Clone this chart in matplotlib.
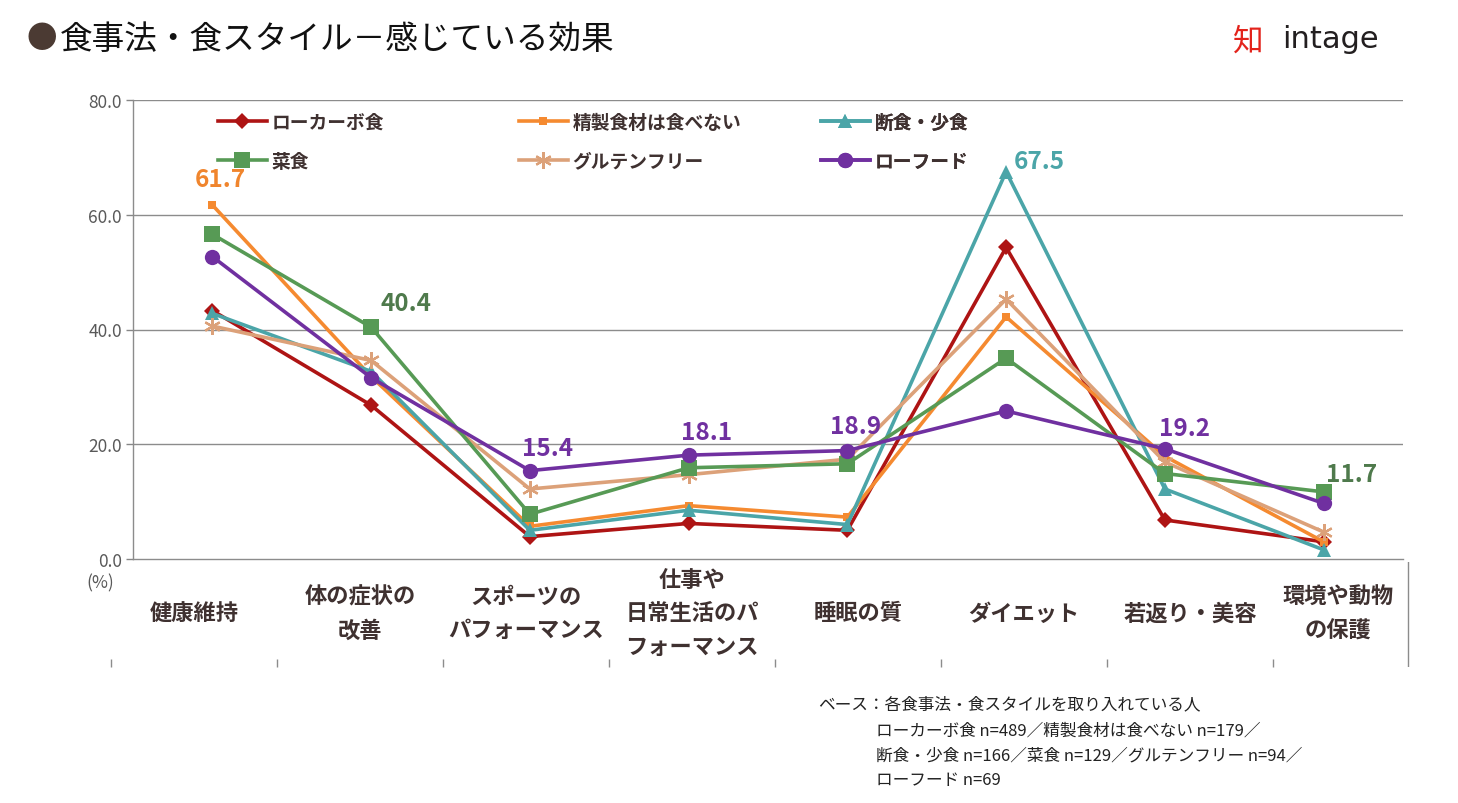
import matplotlib
matplotlib.use("Agg")
import matplotlib.pyplot as plt

plt.rcParams['font.family'] = ['Noto Sans CJK JP', 'DejaVu Sans']

W, H = 1458, 804

categories = ["健康維持", "体の症状の\n改善", "スポーツの\nパフォーマンス", "仕事や\n日常生活のパ\nフォーマンス",
              "睡眠の質", "ダイエット", "若返り・美容", "環境や動物\nの保護"]
series_names = ["ローカーボ食", "精製食材は食べない", "断食・少食", "菜食", "グルテンフリー", "ローフード"]
low_carb   = [43.3, 26.8, 3.9, 6.2, 5.0, 54.3, 6.8, 3.0]
no_refined = [61.7, 31.8, 5.7, 9.3, 7.3, 42.2, 17.9, 3.0]
fasting    = [42.8, 32.7, 5.0, 8.5, 6.0, 67.5, 12.2, 1.6]
vegetarian = [56.6, 40.4, 7.8, 15.9, 16.6, 35.0, 14.9, 11.7]
gluten_free = [40.6, 34.6, 12.2, 14.7, 17.4, 45.3, 16.9, 4.7]
raw_food   = [52.7, 31.6, 15.4, 18.1, 18.9, 25.8, 19.2, 9.7]
yticks = [0, 20, 40, 60, 80]

series_values = [low_carb, no_refined, fasting, vegetarian, gluten_free, raw_food]
colors = ['#AE1414', '#F58A30', '#4BA5A8', '#579A55', '#DCA179', '#7030A0']
markers = ['D', 's', '^', 's', (6, 2, 0), 'o']
msizes = [8, 5.5, 10, 11, 12, 11]
zorders = [3, 3, 3, 4, 3, 5]

# labelled points: (series index, category index, text color, dx px, dy px)
labels = [(1, 0, '#F0852D', 8, 26), (3, 1, '#4F7A4C', 35, 24), (5, 2, '#7030A0', 18, 23),
          (5, 3, '#7030A0', 18, 23), (5, 4, '#7030A0', 8, 25), (2, 5, '#4BA5A8', 33, 11),
          (5, 6, '#7030A0', 20, 21), (3, 7, '#4F7A4C', 28, 18)]

fig = plt.figure(figsize=(W / 100, H / 100), dpi=100)
ax = fig.add_axes([133 / W, 1 - 560 / H, (1403 - 133) / W, (560 - 101) / H])

x = list(range(len(categories)))
for vals, name, c, m, ms, z in zip(series_values, series_names, colors, markers, msizes, zorders):
    mew = 1.6 if m == (6, 2, 0) else 0
    ax.plot(x, vals, color=c, lw=2.6, marker=m, ms=ms, mew=mew, mec=c, mfc=c, label=name, zorder=z)

for si, ci, col, dx, dy in labels:
    v = series_values[si][ci]
    ax.annotate(f"{v:.1f}", (ci, v), xytext=(dx * 0.72, dy * 0.72), textcoords='offset points',
                ha='center', va='center', fontsize=17.5, fontweight='bold', color=col, zorder=10)

ax.set_xlim(-0.5, len(categories) - 0.5)
ax.set_ylim(0, 80)
ax.set_yticks(yticks)
ax.set_yticklabels([f"{t:.1f}" for t in yticks], fontsize=12.5, color='#595959')
ax.set_xticks([])
ax.tick_params(axis='y', length=5, color='#868686', width=1, pad=3)
for t in yticks[1:]:
    ax.axhline(t, color='#8C8C8C', lw=1, zorder=1)
for s in ['top', 'right']:
    ax.spines[s].set_visible(False)
ax.spines['left'].set_color('#8C8C8C')
ax.spines['bottom'].set_color('#8C8C8C')
ax.spines['left'].set_linewidth(1)
ax.spines['bottom'].set_linewidth(1)

# legend in three columns
handles = ax.get_lines()
col_x = [218, 519, 821]
for k in range(3):
    hs = [handles[k], handles[k + 3]]
    leg = ax.legend(hs, [series_names[k], series_names[k + 3]], loc='upper left',
                    bbox_to_anchor=(col_x[k] / W, 1 - 114 / H), bbox_transform=fig.transFigure,
                    frameon=False, handlelength=2.6, handletextpad=0.25, labelspacing=1.05,
                    prop={'size': 13.5, 'weight': 'bold'}, borderaxespad=0, borderpad=0)
    for t in leg.get_texts():
        t.set_color('#3F3130')
    ax.add_artist(leg)

fig.text(100 / W, 1 - 583 / H, "(%)", ha='center', va='center', fontsize=12.5, color='#595959')

# category label area
axl = fig.add_axes([111 / W, 1 - 668 / H, 8 * 166 / W, (668 - 563) / H])
axl.set_xlim(-0.5, 7.5)
axl.set_ylim(0, 1)
for s in axl.spines.values():
    s.set_visible(False)
axl.set_yticks([])
axl.set_xticks([i - 0.5 for i in range(8)])
axl.set_xticklabels([])
axl.tick_params(axis='x', direction='in', length=6, color='#8C8C8C', width=1)
right_edge = (1408 - 111) / 166 - 0.5
axl.axvline(right_edge, color='#8C8C8C', lw=1)
axl.patch.set_alpha(0)
for i, c in enumerate(categories):
    xi = min(i, right_edge - 0.42)
    axl.text(xi, (668 - 614) / (668 - 563), c, ha='center', va='center', fontsize=16,
             fontweight='bold', color='#3F3130', linespacing=1.6)

# title
fig.text(42 / W, 1 - 40 / H, "●", ha='center', va='center', fontsize=22, color='#4B3A33')
fig.text(60 / W, 1 - 40 / H, "食事法・食スタイル－感じている効果", ha='left', va='center',
         fontsize=23.5, color='#111111')

# logo
fig.text(1248 / W, 1 - 42 / H, "知", ha='center', va='center', fontsize=22, color='#E3231B')
fig.text(1282 / W, 1 - 40 / H, "intage", ha='left', va='center', fontsize=22,
         color='#231F20', family='DejaVu Sans', fontweight='medium')

# footnote
notes = ["ベース：各食事法・食スタイルを取り入れている人",
         "ローカーボ食 n=489／精製食材は食べない n=179／",
         "断食・少食 n=166／菜食 n=129／グルテンフリー n=94／",
         "ローフード n=69"]
fig.text(818 / W, 1 - 705 / H, notes[0], ha='left', va='center', fontsize=12, color='#222222')
for j, n in enumerate(notes[1:]):
    fig.text(876 / W, 1 - (731 + 25 * j) / H, n, ha='left', va='center', fontsize=12, color='#222222')

fig.savefig("out.png", dpi=100)
